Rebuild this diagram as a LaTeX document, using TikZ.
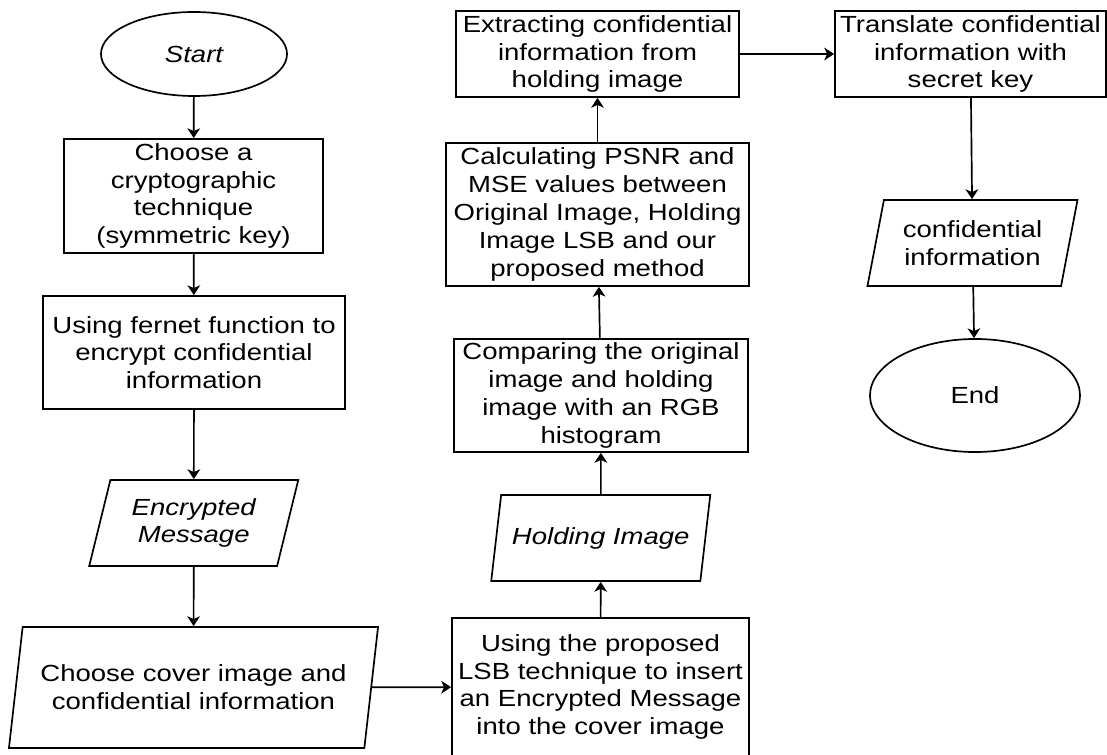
\documentclass[tikz,border=0pt]{standalone}
\usepackage{fontspec}
\setmainfont{Liberation Sans}[FakeStretch=1.18]
\usepackage{tikz}
\usetikzlibrary{shapes.geometric, arrows.meta}

\begin{document}
\begin{tikzpicture}[x=0.025cm, y=-0.025cm,
    font=\fontsize{16.6}{19.8}\selectfont,
    every node/.style={line width=1.2pt, align=center},
    procbox/.style={draw, rectangle, inner xsep=1pt, inner ysep=1pt},
    termbox/.style={draw, ellipse, inner sep=1pt},
    iobox/.style={draw, trapezium, trapezium left angle=68, trapezium right angle=112,
      trapezium stretches body, inner xsep=-0.4cm, inner ysep=1pt},
    flow/.style={line width=1.2pt, -{Stealth[length=7pt, width=9pt, inset=2pt]}}]
  \useasboundingbox (0,0) rectangle (1107,755);
  \clip (0,0) rectangle (1107,755);

  % left column
  \node[termbox, minimum width=4.65cm, minimum height=2.1cm] (start) at (194,54) {\itshape Start};
  \node[procbox, minimum width=6.475cm, minimum height=2.85cm] (choose) at (193.5,196)
    {Choose a\\ cryptographic\\ technique\\ (symmetric key)};
  \node[procbox, minimum width=7.55cm, minimum height=2.825cm] (fernet) at (194,352.5)
    {Using fernet function to\\ encrypt confidential\\ information};
  \node[iobox, minimum width=5.225cm, minimum height=2.15cm] (encmsg) at (193.75,523)
    {\itshape Encrypted\\ \itshape Message};
  \node[iobox, trapezium left angle=74, trapezium right angle=106,
    minimum width=9.225cm, minimum height=3.025cm] (cover) at (193.5,687.5)
    {Choose cover image and\\ confidential information};

  % middle column
  \node[procbox, minimum width=7.425cm, minimum height=3.45cm] (lsb) at (600.5,687)
    {Using the proposed\\ LSB technique to insert\\ an Encrypted Message\\ into the cover image};
  \node[iobox, minimum width=5.475cm, minimum height=2.15cm] (holding) at (600.75,538)
    {\itshape Holding Image};
  \node[procbox, minimum width=7.35cm, minimum height=2.825cm] (compare) at (601,395.5)
    {Comparing the original\\ image and holding\\ image with an RGB\\ histogram};
  \node[procbox, minimum width=7.575cm, minimum height=3.575cm] (calc) at (597.5,214.5)
    {Calculating PSNR and\\ MSE values between\\ Original Image, Holding\\ Image LSB and our\\ proposed method};
  \node[procbox, minimum width=7.075cm, minimum height=2.15cm] (extract) at (597.5,54)
    {Extracting confidential\\ information from\\ holding image};

  % right column
  \node[procbox, minimum width=6.775cm, minimum height=2.15cm] (translate) at (970.5,54)
    {Translate confidential\\ information with\\ secret key};
  \node[iobox, trapezium left angle=71, trapezium right angle=109,
    minimum width=5.25cm, minimum height=2.15cm] (confinfo) at (972.5,243)
    {confidential\\ information};
  \node[termbox, minimum width=5.25cm, minimum height=2.825cm] (end) at (975,395.5) {End};

  \draw[flow] (start) -- (choose);
  \draw[flow] (choose) -- (fernet);
  \draw[flow] (fernet) -- (encmsg);
  \draw[flow] (encmsg) -- (cover);
  \draw[flow] (cover) -- (lsb);
  \draw[flow] (lsb) -- (holding);
  \draw[flow] (holding) -- (compare);
  \draw[flow] (compare) -- (calc);
  \draw[flow] (calc) -- (extract);
  \draw[flow] (extract) -- (translate);
  \draw[flow] (translate) -- (confinfo);
  \draw[flow] (confinfo) -- (end);
\end{tikzpicture}
\end{document}
